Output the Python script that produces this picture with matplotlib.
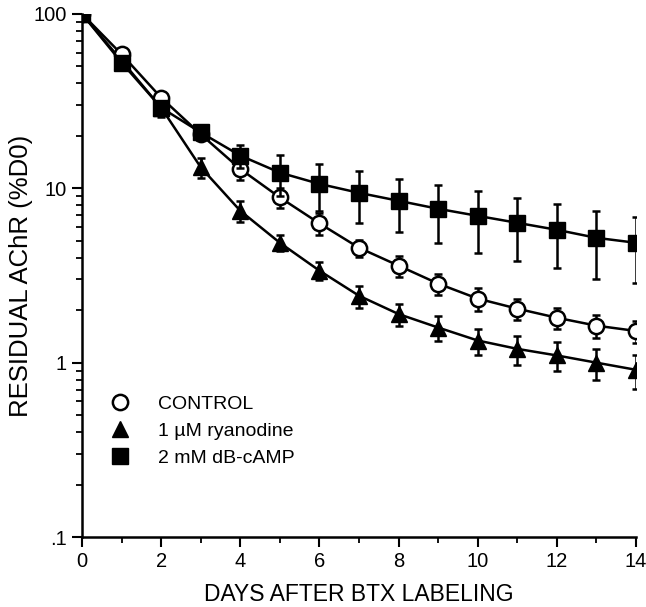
import matplotlib
matplotlib.use("Agg")
import matplotlib.pyplot as plt
from matplotlib.ticker import FixedLocator, LogLocator, NullFormatter, FuncFormatter
from matplotlib.lines import Line2D

plt.rcParams['font.family'] = ['Liberation Sans', 'DejaVu Sans']

days = list(range(15))

control = [100, 58.7, 33.1, 20.4, 12.9, 8.86, 6.29, 4.56, 3.6, 2.84, 2.33, 2.04, 1.81, 1.63, 1.52]
control_err = [0, 2.0, 1.5, 1.2, 1.8, 1.2, 0.9, 0.5, 0.48, 0.4, 0.35, 0.28, 0.25, 0.25, 0.22]

ryan = [100, 54, 29, 13.2, 7.43, 4.87, 3.37, 2.42, 1.9, 1.59, 1.34, 1.2, 1.1, 1.0, 0.91]
ryan_err = [0, 2.0, 3.5, 1.8, 1.0, 0.5, 0.4, 0.35, 0.28, 0.25, 0.23, 0.23, 0.21, 0.2, 0.2]

camp = [100, 52.6, 29, 20.9, 15.4, 12.3, 10.6, 9.42, 8.48, 7.63, 6.95, 6.34, 5.78, 5.2, 4.87]
camp_err = [0, 2.0, 2.5, 2.0, 2.3, 3.3, 3.2, 3.1, 2.9, 2.8, 2.7, 2.5, 2.3, 2.2, 2.0]

labels = ['CONTROL', '1 \u00b5M ryanodine', '2 mM dB-cAMP']

fig = plt.figure(figsize=(6.46, 6.07), dpi=100)
ax = fig.add_axes([0.127, 0.1153, 0.8575, 0.8617])

common = dict(color='black', lw=1.8, elinewidth=1.8, capsize=2.8, capthick=1.8, markersize=11)
ax.errorbar(days, ryan, yerr=ryan_err, marker='^', mfc='black', mec='black', zorder=3, **common)
ax.errorbar(days, control, yerr=control_err, marker='o', mfc='white', mec='black', mew=1.8, zorder=4, **common)
ax.errorbar(days, camp, yerr=camp_err, marker='s', mfc='black', mec='black', zorder=5, **common)

ax.set_yscale('log')
ax.set_ylim(0.1, 100)
ax.set_xlim(0, 14)
ax.xaxis.set_major_locator(FixedLocator(range(0, 15, 2)))
ax.xaxis.set_minor_locator(FixedLocator(range(1, 15, 2)))
ax.yaxis.set_major_locator(FixedLocator([0.1, 1, 10, 100]))
ax.yaxis.set_minor_locator(LogLocator(base=10, subs=range(2, 10)))
ax.yaxis.set_minor_formatter(NullFormatter())
ax.yaxis.set_major_formatter(FuncFormatter(lambda v, p: {0.1: '.1', 1: '1', 10: '10', 100: '100'}.get(round(v, 1), '')))

for s in ['top', 'right']:
    ax.spines[s].set_visible(False)
for s in ['left', 'bottom']:
    ax.spines[s].set_linewidth(1.8)
ax.tick_params(which='major', direction='out', length=7, width=1.5, labelsize=14.5, pad=4)
ax.tick_params(which='minor', direction='out', length=4, width=1.3)

ax.set_xlabel('DAYS AFTER BTX LABELING', fontsize=16.5)
ax.xaxis.set_label_coords(0.5, -0.088)
ax.set_ylabel('RESIDUAL AChR (%D0)', fontsize=18.5)
ax.yaxis.set_label_coords(-0.088, 0.5)

handles = [
    Line2D([], [], ls='none', marker='o', mfc='white', mec='black', mew=1.8, markersize=11),
    Line2D([], [], ls='none', marker='^', mfc='black', mec='black', markersize=11),
    Line2D([], [], ls='none', marker='s', mfc='black', mec='black', markersize=11),
]
ax.legend(handles, labels, loc='upper left', bbox_to_anchor=(0.015, 0.305), frameon=False,
          fontsize=14, handletextpad=1.4, labelspacing=0.5, handlelength=1.2)

fig.savefig('out.png', dpi=100)
